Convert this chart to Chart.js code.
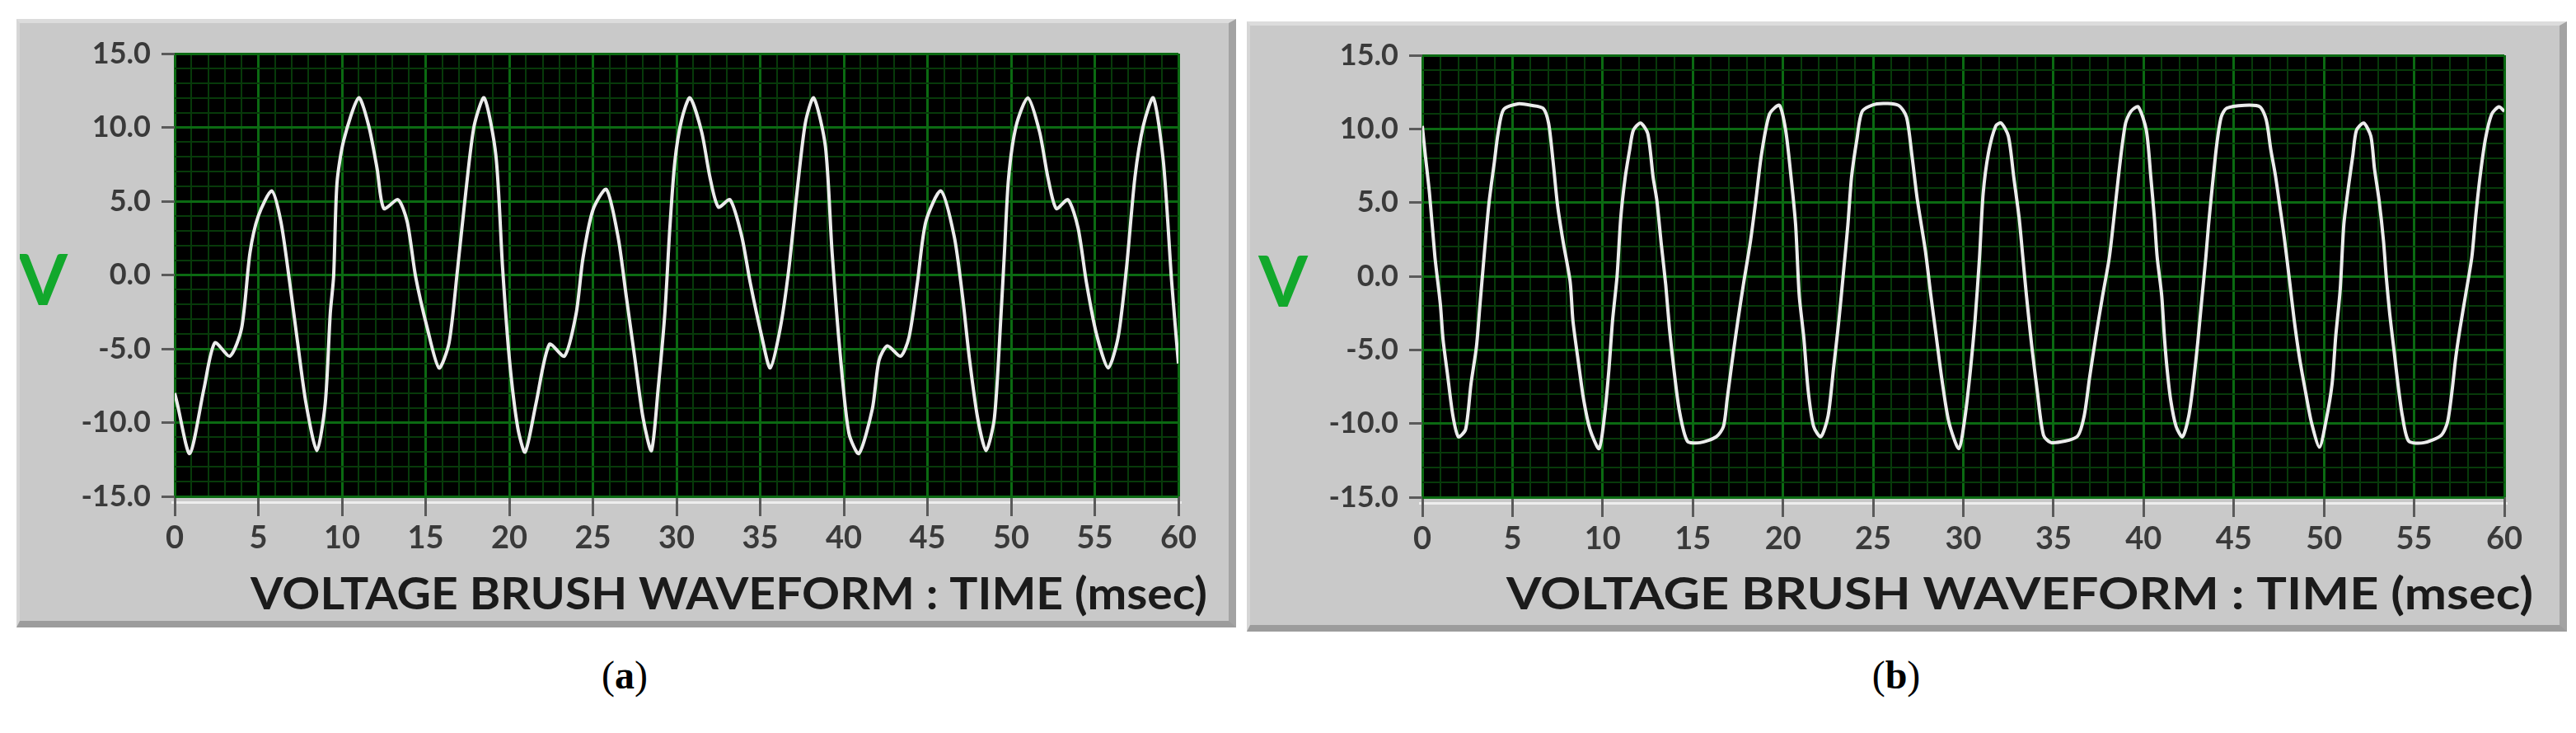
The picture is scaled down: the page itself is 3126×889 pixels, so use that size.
<!DOCTYPE html>
<html>
<head>
<meta charset="utf-8">
<script src="https://cdn.jsdelivr.net/npm/chart.js@4.4.1/dist/chart.umd.min.js"></script>
<style>
  html, body { margin: 0; padding: 0; background: #fff; }
  body { width: 3126px; height: 889px; position: relative; overflow: hidden; }
  .panel {
    position: absolute;
    background: #c9c9c9;
    border-top: 5px solid #dcdcdc;
    border-left: 4px solid #d6d6d6;
    border-right: 9px solid #a3a3a3;
    border-bottom: 8px solid #9c9c9c;
    box-sizing: border-box;
  }
  .panel canvas { position: absolute; left: 0; top: 0; }
  .caption {
    position: absolute;
    font-family: "Liberation Serif", "DejaVu Serif", serif;
    font-size: 48px;
    color: #000;
    transform: translate(-50%, -50%);
  }
</style>
</head>
<body>

<div class="panel" id="panelA" style="left:20px; top:23px; width:1480px; height:738px;">
  <canvas id="chartA" width="1466" height="730"></canvas>
</div>
<div class="panel" id="panelB" style="left:1513px; top:26px; width:1602px; height:740px;">
  <canvas id="chartB" width="1592" height="734"></canvas>
</div>

<div class="caption" style="left:758px; top:818px;">(<b>a</b>)</div>
<div class="caption" style="left:2301px; top:818px;">(<b>b</b>)</div>

<script>
//===================================== Data
var TIME_MIN = 0;
var TIME_MAX = 60;
var VOLT_MIN = -15;
var VOLT_MAX = 15;

var axisTitle = "VOLTAGE BRUSH WAVEFORM : TIME (msec)";
var axisUnit = "V";

// (a) waveform, time in msec
var timeA = [
  0, 0.15, 0.9, 1.75, 2.4, 3.3, 4.0, 4.5, 5.0, 5.8,
  6.35, 6.85, 7.35, 7.85, 8.5, 9.0, 9.3, 9.5, 9.7, 10.1,
  11.0, 11.6, 12.1, 12.5, 13.35, 13.9, 14.4, 15.1, 15.8, 16.4,
  16.9, 17.4, 17.9, 18.5, 19.2, 19.6, 20.0, 20.5, 20.95, 21.6,
  22.4, 23.3, 24.0, 24.4, 25.0, 25.8, 26.5, 27.0, 27.5, 28.0,
  28.5, 28.9, 29.3, 29.6, 29.9, 30.3, 30.8, 31.5, 32.0, 32.5,
  33.2, 33.9, 34.4, 35.1, 35.6, 36.2, 36.7, 37.2, 37.7, 38.2,
  38.9, 39.3, 39.8, 40.3, 40.9, 41.7, 42.1, 42.6, 43.4, 43.9,
  44.4, 44.9, 45.8, 46.6, 47.1, 47.5, 48.0, 48.5, 49.0, 49.4,
  49.6, 49.85, 50.3, 51.0, 51.7, 52.2, 52.7, 53.4, 54.0, 54.5,
  55.1, 55.8, 56.4, 56.9, 57.4, 57.9, 58.5, 59.1, 59.6, 60.0
];
var voltA = [
  -8.0, -8.7, -12.1, -7.7, -4.6, -5.5, -3.6, 1.5, 4.0, 5.7,
  3.6, -0.3, -4.6, -8.7, -11.9, -8.7, -2.6, -0.1, 6.2, 9.1,
  12.0, 10.1, 7.2, 4.5, 5.1, 3.6, -0.1, -3.6, -6.3, -4.6,
  0.3, 5.6, 10.1, 12.0, 8.1, 0.5, -5.6, -10.3, -12.0, -8.7,
  -4.7, -5.5, -2.6, 1.1, 4.4, 5.8, 2.6, -1.5, -5.6, -9.7,
  -11.9, -7.7, -2.6, 3.2, 7.7, 10.5, 12.0, 9.7, 6.6, 4.6,
  5.1, 2.6, -0.5, -4.2, -6.3, -3.6, 0.3, 5.6, 10.3, 12.0,
  8.7, 1.5, -5.6, -10.7, -12.1, -9.1, -5.8, -4.8, -5.5, -4.2,
  -0.5, 3.6, 5.7, 2.6, -1.5, -5.6, -9.7, -11.9, -9.7, -2.6,
  1.5, 6.6, 10.1, 12.0, 9.7, 6.6, 4.5, 5.1, 3.2, -0.5,
  -4.0, -6.3, -4.2, 0.5, 6.6, 10.1, 12.0, 7.7, -0.5, -6.0
];

// (b) waveform, time in msec
var timeB = [
  0, 0.15, 0.4, 0.7, 1.0, 1.15, 1.4, 1.7, 2.0, 2.4,
  2.7, 3.0, 3.2, 3.45, 3.7, 4.0, 4.2, 4.5, 5.3, 6.05,
  6.7, 7.0, 7.25, 7.5, 7.8, 8.2, 8.35, 8.65, 8.95, 9.3,
  9.8, 10.1, 10.35, 10.55, 10.8, 11.0, 11.25, 11.5, 11.7, 12.1,
  12.5, 12.8, 13.0, 13.25, 13.5, 13.7, 13.95, 14.25, 14.7, 15.4,
  16.3, 16.7, 16.9, 17.2, 17.5, 17.8, 18.2, 18.5, 18.8, 19.25,
  19.8, 20.15, 20.45, 20.7, 20.9, 21.15, 21.4, 21.7, 22.1, 22.5,
  22.8, 23.1, 23.35, 23.6, 23.8, 24.1, 24.4, 25.2, 26.4, 26.85,
  27.15, 27.45, 27.9, 28.2, 28.5, 28.8, 29.2, 29.75, 30.1, 30.4,
  30.65, 30.9, 31.1, 31.4, 31.8, 32.1, 32.5, 32.8, 33.1, 33.3,
  33.5, 33.8, 34.1, 34.45, 34.9, 36.3, 36.7, 37.0, 37.35, 37.7,
  38.1, 38.4, 38.7, 39.0, 39.3, 39.7, 40.15, 40.4, 40.6, 40.75,
  41.0, 41.15, 41.3, 41.5, 41.8, 42.15, 42.5, 42.75, 43.0, 43.2,
  43.45, 43.6, 43.8, 44.05, 44.3, 44.6, 45.6, 46.45, 46.8, 47.05,
  47.3, 47.5, 47.8, 48.1, 48.35, 48.65, 49.0, 49.3, 49.75, 50.1,
  50.45, 50.65, 50.9, 51.1, 51.35, 51.6, 51.8, 52.2, 52.6, 52.8,
  53.05, 53.3, 53.45, 53.65, 53.9, 54.1, 54.35, 54.7, 55.55, 56.5,
  56.85, 57.1, 57.3, 57.55, 57.85, 58.2, 58.4, 58.65, 58.95, 59.3,
  59.7, 60.0
];
var voltB = [
  10.2, 8.4, 5.6, 1.3, -1.9, -4.3, -6.7, -9.5, -10.9, -10.4,
  -7.3, -4.8, -1.9, 1.7, 5.0, 7.8, 9.7, 11.3, 11.7, 11.6,
  11.4, 10.4, 7.8, 4.8, 2.4, -0.4, -3.0, -5.8, -8.4, -10.4,
  -11.7, -9.5, -6.3, -3.0, 0.0, 3.9, 6.7, 8.6, 9.9, 10.4,
  9.7, 6.7, 5.2, 2.2, -0.6, -3.5, -6.3, -9.1, -11.2, -11.3,
  -10.9, -10.2, -8.4, -5.6, -3.0, -0.6, 2.4, 5.2, 8.2, 11.0,
  11.6, 9.9, 6.7, 3.5, -1.3, -4.1, -7.8, -10.2, -10.9, -9.5,
  -6.3, -3.0, 0.2, 3.5, 6.7, 9.3, 11.2, 11.7, 11.6, 10.8,
  8.2, 5.2, 1.7, -1.3, -4.1, -6.9, -9.9, -11.7, -9.5, -6.3,
  -3.0, 1.3, 5.6, 8.4, 10.2, 10.4, 9.5, 6.7, 3.9, 1.3,
  -1.3, -4.8, -7.8, -10.8, -11.3, -10.9, -9.5, -6.9, -4.1, -1.5,
  1.3, 4.5, 7.8, 10.4, 11.2, 11.5, 9.9, 6.7, 3.9, 1.3,
  -1.3, -4.1, -6.3, -8.4, -10.2, -10.9, -9.5, -7.3, -4.5, -1.9,
  1.3, 3.5, 6.0, 8.9, 10.8, 11.4, 11.6, 11.5, 10.6, 8.6,
  6.9, 5.2, 2.6, -0.4, -3.0, -5.6, -8.0, -9.9, -11.6, -9.9,
  -7.3, -4.1, -0.9, 3.5, 6.0, 8.2, 9.9, 10.4, 9.5, 7.3,
  5.2, 2.4, 0.0, -2.6, -5.2, -7.3, -9.5, -11.2, -11.3, -10.8,
  -9.9, -7.8, -5.6, -3.5, -1.3, 1.3, 3.9, 6.7, 9.3, 11.0,
  11.5, 11.2
];


//===================================== Helpers
function toPoints(xs, ys) {
  var pts = [];
  for (var i = 0; i < xs.length; i++) {
    pts.push({ x: xs[i], y: ys[i] });
  }
  return pts;
}

function isMajor(v) {
  return Math.abs(Math.round(v) % 5) === 0;
}

var FONT_UI = "Lato, 'Open Sans', 'DejaVu Sans', sans-serif";

// Frame plugin: black plot area, axis title on the right and the green "V"
var framePlugin = {
  id: "frame",
  beforeDraw: function (chart, args, opts) {
    var ctx = chart.ctx;
    var a = chart.chartArea;
    ctx.save();
    ctx.fillStyle = "#000";
    ctx.fillRect(a.left, a.top, a.right - a.left, a.bottom - a.top);
    // light rail under the plot
    ctx.fillStyle = "#eeeeee";
    ctx.fillRect(a.left - 4, a.bottom + 6, a.right - a.left + 8, 3);
    ctx.restore();
  },
  afterDraw: function (chart, args, opts) {
    var ctx = chart.ctx;
    var a = chart.chartArea;
    ctx.save();

    // axis title, squeezed to the width it has in the picture
    ctx.font = "bold 54px " + FONT_UI;
    ctx.fillStyle = "#1b1b1b";
    ctx.textAlign = "right";
    ctx.textBaseline = "middle";
    var w = ctx.measureText(axisTitle).width;
    ctx.translate(a.right + opts.titleRightOffset, a.bottom + opts.titleOffsetY);
    ctx.scale(opts.titleWidth / w, 1);
    ctx.fillText(axisTitle, 0, 0);
    ctx.restore();

    ctx.save();
    ctx.font = "bold 86px " + FONT_UI;
    ctx.fillStyle = "#12a82c";
    ctx.textAlign = "center";
    ctx.textBaseline = "middle";
    ctx.fillText(axisUnit, opts.unitX, opts.unitY);
    ctx.restore();
  }
};

function buildScope(el, times, volts, cfg) {
  return new Chart(el, {
    type: "line",
    data: {
      datasets: [{
        data: toPoints(times, volts),
        borderColor: "#ececec",
        borderWidth: 4,
        pointRadius: 0,
        tension: 0.25,
        fill: false
      }]
    },
    options: {
      responsive: false,
      animation: false,
      devicePixelRatio: 1,
      layout: { padding: cfg.padding },
      plugins: {
        legend: { display: false },
        tooltip: { enabled: false },
        frame: cfg.frame
      },
      scales: {
        x: {
          type: "linear",
          min: TIME_MIN,
          max: TIME_MAX,
          afterFit: function (scale) { scale.height = cfg.xHeight; },
          border: { display: false },
          grid: {
            color: function (c) { return isMajor(c.tick.value) ? "#0b6a12" : "#073a0a"; },
            lineWidth: function (c) { return isMajor(c.tick.value) ? 3 : 2; },
            tickColor: function (c) { return isMajor(c.tick.value) ? "#5a5a5a" : "rgba(0,0,0,0)"; },
            tickLength: 24,
            tickWidth: 3
          },
          ticks: {
            stepSize: 1,
            autoSkip: false,
            maxRotation: 0,
            padding: 4,
            color: "#3a3a3a",
            font: { family: FONT_UI, size: 38, weight: "bold" },
            callback: function (v) { return isMajor(v) ? String(v) : ""; }
          }
        },
        y: {
          min: VOLT_MIN,
          max: VOLT_MAX,
          afterFit: function (scale) { scale.width = cfg.yWidth; },
          border: { display: false },
          grid: {
            color: function (c) { return isMajor(c.tick.value) ? "#0b6a12" : "#073a0a"; },
            lineWidth: function (c) { return isMajor(c.tick.value) ? 3 : 2; },
            tickColor: function (c) { return isMajor(c.tick.value) ? "#5a5a5a" : "rgba(0,0,0,0)"; },
            tickLength: 16,
            tickWidth: 3
          },
          ticks: {
            stepSize: 1,
            autoSkip: false,
            padding: 13,
            color: "#3a3a3a",
            font: { family: FONT_UI, size: 36, weight: "bold" },
            callback: function (v) { return isMajor(v) ? Number(v).toFixed(1) : ""; }
          }
        }
      }
    },
    plugins: [framePlugin]
  });
}

buildScope(document.getElementById("chartA"), timeA, voltA, {
  padding: { left: 0, top: 37, right: 60, bottom: 0 },
  yWidth: 188,
  xHeight: 156,
  frame: { titleWidth: 1161, titleRightOffset: 35, titleOffsetY: 120, unitX: 28, unitY: 314 }
});

buildScope(document.getElementById("chartB"), timeB, voltB, {
  padding: { left: 0, top: 36, right: 70, bottom: 0 },
  yWidth: 209,
  xHeight: 162,
  frame: { titleWidth: 1246, titleRightOffset: 35, titleOffsetY: 119, unitX: 40, unitY: 313 }
});
</script>
</body>
</html>
